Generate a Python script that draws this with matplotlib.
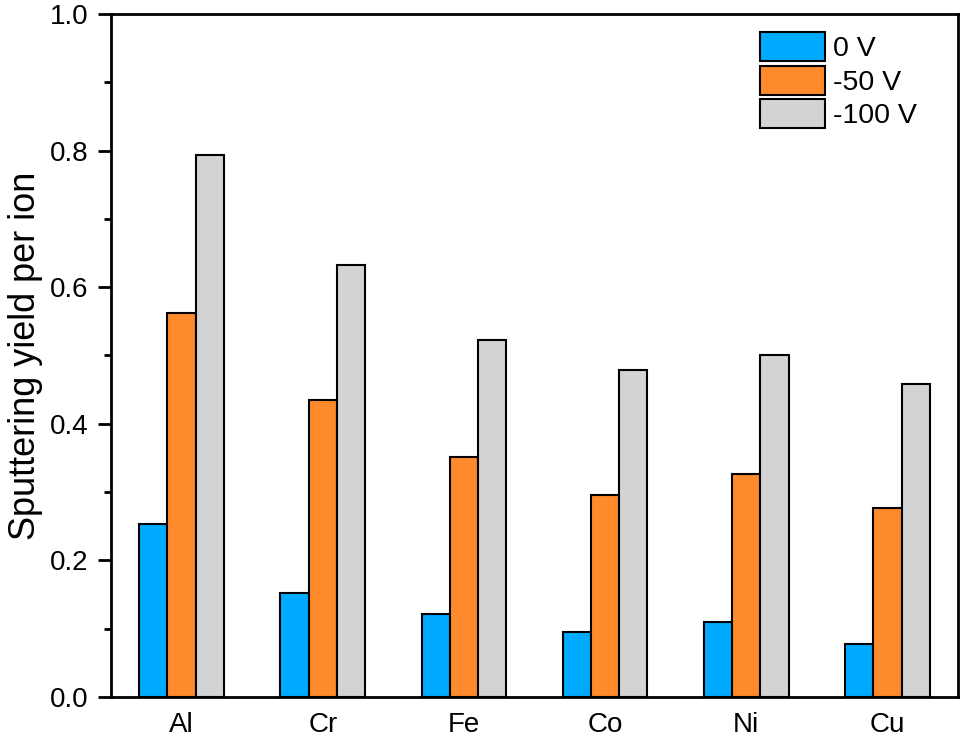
import numpy as np
import matplotlib.pyplot as plt
from matplotlib.ticker import MultipleLocator

plt.rcParams['font.family'] = ['Liberation Sans', 'DejaVu Sans']

elements = ["Al", "Cr", "Fe", "Co", "Ni", "Cu"]
bias_labels = ["0 V", "-50 V", "-100 V"]
yield_0v = [0.253, 0.152, 0.122, 0.095, 0.110, 0.078]
yield_50v = [0.562, 0.435, 0.351, 0.296, 0.326, 0.277]
yield_100v = [0.793, 0.632, 0.523, 0.479, 0.501, 0.458]

colors = ["#00AAFF", "#FF8A2B", "#D3D3D3"]

fig = plt.figure(figsize=(9.67, 7.42), dpi=100)
ax = fig.add_axes([111 / 967, 45 / 742, 847 / 967, 683 / 742])

x = np.arange(len(elements))
w = 0.2
for i, (vals, lab) in enumerate(zip([yield_0v, yield_50v, yield_100v], bias_labels)):
    ax.bar(x + (i - 1) * w, vals, w, color=colors[i], edgecolor="black",
           linewidth=1.5, label=lab)

ax.set_xlim(-0.5, 5.5)
ax.set_ylim(0, 1.0)
ax.set_xticks(x)
ax.set_xticklabels(elements)
ax.yaxis.set_major_locator(MultipleLocator(0.2))
ax.yaxis.set_minor_locator(MultipleLocator(0.1))
ax.tick_params(axis="x", length=0, labelsize=20, pad=10.5)
ax.tick_params(axis="y", which="major", direction="out", length=9.5, width=2,
               labelsize=20, pad=7)
ax.tick_params(axis="y", which="minor", direction="out", length=5, width=2)
for s in ax.spines.values():
    s.set_linewidth(2)

ax.set_ylabel("Sputtering yield per ion", fontsize=26, labelpad=5)

# legend without frame, swatches slightly taller than text
ax.legend(loc="upper left", frameon=False, fontsize=20.5, handlelength=2.28,
          handleheight=1.2, labelspacing=0.12, handletextpad=0.3,
          bbox_to_anchor=((760 - 111) / 847, (697 - 32) / 683),
          borderaxespad=0, borderpad=0)

fig.savefig("out.png", dpi=100)
